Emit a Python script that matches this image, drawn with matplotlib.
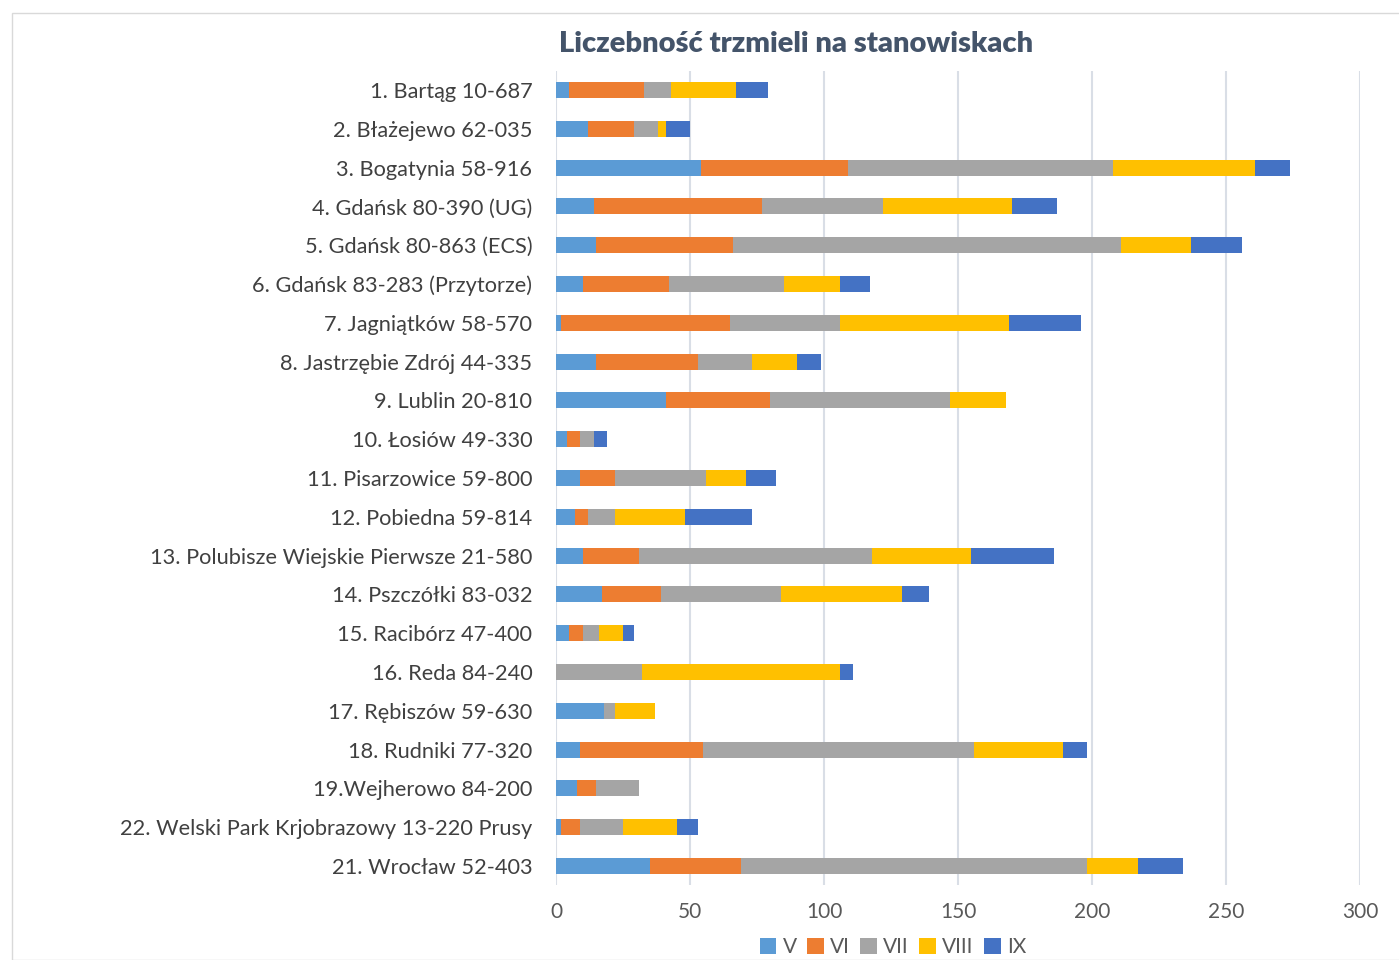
import matplotlib
matplotlib.use("Agg")
import matplotlib.pyplot as plt
from matplotlib.patches import Rectangle
import numpy as np

categories = [
    "1. Bartąg 10-687",
    "2. Błażejewo 62-035",
    "3. Bogatynia 58-916",
    "4. Gdańsk 80-390 (UG)",
    "5. Gdańsk 80-863 (ECS)",
    "6. Gdańsk 83-283 (Przytorze)",
    "7. Jagniątków 58-570",
    "8. Jastrzębie Zdrój 44-335",
    "9. Lublin 20-810",
    "10. Łosiów 49-330",
    "11. Pisarzowice 59-800",
    "12. Pobiedna 59-814",
    "13. Polubisze Wiejskie Pierwsze 21-580",
    "14. Pszczółki 83-032",
    "15. Racibórz 47-400",
    "16. Reda 84-240",
    "17. Rębiszów 59-630",
    "18. Rudniki 77-320",
    "19.Wejherowo 84-200",
    "22. Welski Park Krjobrazowy 13-220 Prusy",
    "21. Wrocław 52-403",
]

series_names = ["V", "VI", "VII", "VIII", "IX"]
V    = [5, 12, 54, 14, 15, 10, 2, 15, 41, 4, 9, 7, 10, 17, 5, 0, 18, 9, 8, 2, 35]
VI   = [28, 17, 55, 63, 51, 32, 63, 38, 39, 5, 13, 5, 21, 22, 5, 0, 0, 46, 7, 7, 34]
VII  = [10, 9, 99, 45, 145, 43, 41, 20, 67, 5, 34, 10, 87, 45, 6, 32, 4, 101, 16, 16, 129]
VIII = [24, 3, 53, 48, 26, 21, 63, 17, 21, 0, 15, 26, 37, 45, 9, 74, 15, 33, 0, 20, 19]
IX   = [12, 9, 13, 17, 19, 11, 27, 9, 0, 5, 11, 25, 31, 10, 4, 5, 0, 9, 0, 8, 17]

colors = ["#5B9BD5", "#ED7D31", "#A5A5A5", "#FFC000", "#4472C4"]
text_color = "#44546A"
label_color = "#404040"

plt.rcParams['font.family'] = ['Lato', 'DejaVu Sans']

fig = plt.figure(figsize=(13.99, 9.6), dpi=100)
fig.patches.append(Rectangle((12/1399, 0), 2, 1 - 13/960, transform=fig.transFigure,
                             fill=False, edgecolor="#D9D9D9", linewidth=1.0))
ax = fig.add_axes([556/1399, 1 - 885.4/960, (1360 - 556)/1399, (885.4 - 70.6)/960])

y = np.arange(len(categories))
left = np.zeros(len(categories))
for name, vals, c in zip(series_names, [V, VI, VII, VIII, IX], colors):
    vals = np.array(vals, dtype=float)
    ax.barh(y, vals, left=left, height=0.41, color=c, label=name, zorder=3)
    left += vals

ax.set_ylim(len(categories) - 0.5, -0.5)
ax.set_xlim(0, 300)
ax.set_xticks(np.arange(0, 301, 50))
ax.set_yticks(y)
ax.set_yticklabels(categories, fontsize=15.7, color=label_color)
ax.tick_params(axis='x', labelsize=15, labelcolor="#595959", length=0, pad=12)
ax.tick_params(axis='y', length=0, pad=17)
ax.grid(axis='x', color="#D9DEE6", linewidth=1.5, zorder=0)
for s in ax.spines.values():
    s.set_visible(False)

fig.text(796/1399, 1 - 44/960, "Liczebność trzmieli na stanowiskach", ha='center', va='center',
         fontsize=21, fontweight='heavy', color=text_color)

leg = fig.legend(loc='center', bbox_to_anchor=(893/1399, 1 - 947/960), ncol=5, frameon=False,
                 fontsize=15, handlelength=0.8, handleheight=0.8, handletextpad=0.3,
                 columnspacing=0.5, labelcolor="#595959")

fig.savefig("out.png", dpi=100, facecolor="white")
